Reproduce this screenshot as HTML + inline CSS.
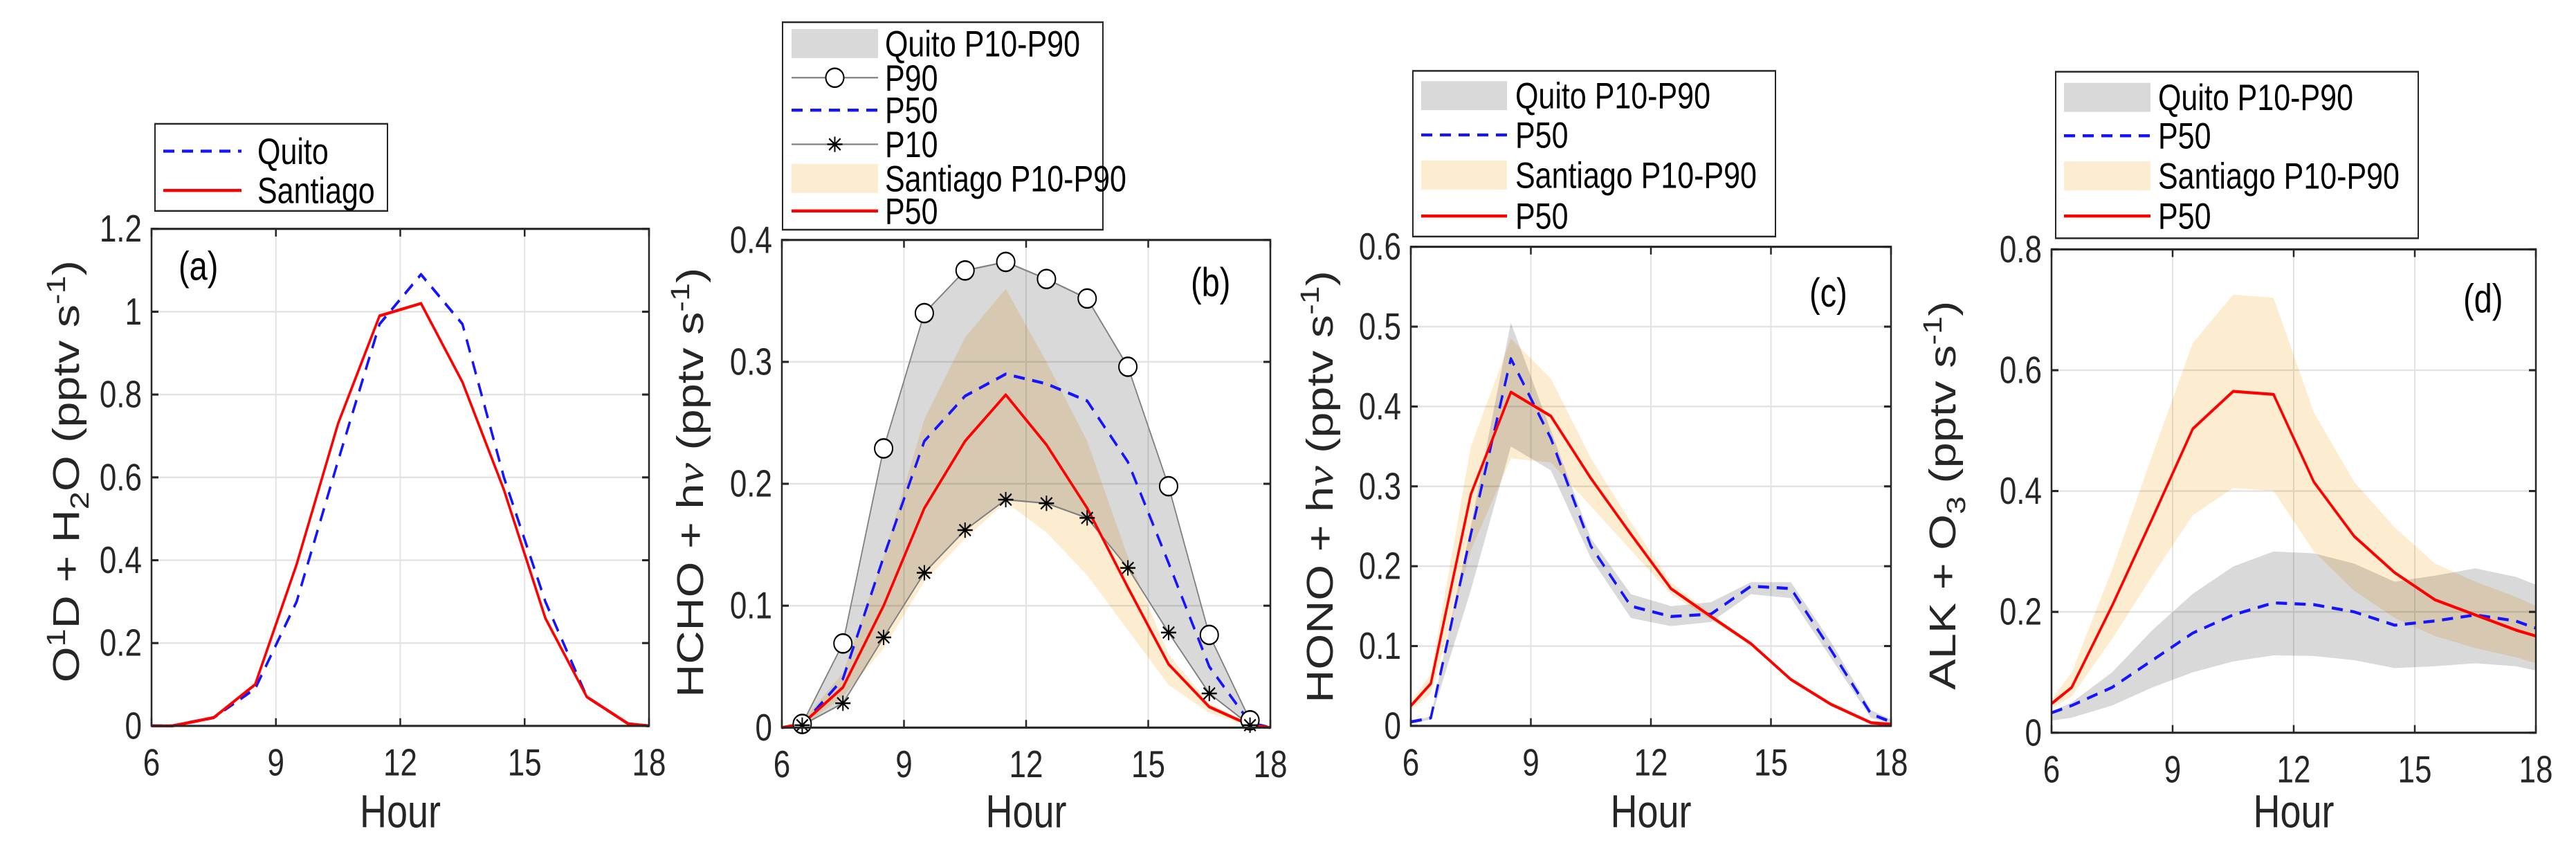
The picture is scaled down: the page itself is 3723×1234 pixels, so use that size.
<!DOCTYPE html>
<html><head><meta charset="utf-8"><style>
html,body{margin:0;padding:0;background:#fff;}
svg{display:block;font-family:"Liberation Sans",sans-serif;}
.band{mix-blend-mode:multiply;}
</style></head><body>
<svg id="fig" width="3723" height="1234" viewBox="0 0 3723 1000" preserveAspectRatio="none" xmlns="http://www.w3.org/2000/svg"></svg>
<script>
const hours = [6,6.5,7.5,8.5,9.5,10.5,11.5,12.5,13.5,14.5,15.5,16.5,17.5,18];
const xTicks = [6,9,12,15,18];
// panel a
const aQuito = [0,0,0.02,0.09,0.3,0.64,0.97,1.09,0.97,0.6,0.3,0.07,0.005,0];
const aSantiago = [0,0,0.02,0.1,0.39,0.73,0.99,1.02,0.83,0.57,0.26,0.07,0.005,0];
const aYTicks = [0,0.2,0.4,0.6,0.8,1,1.2];
// panel b
const bHours = [6.5,7.5,8.5,9.5,10.5,11.5,12.5,13.5,14.5,15.5,16.5,17.5];
const bQuitoP90 = [0.003,0.069,0.229,0.34,0.375,0.382,0.368,0.352,0.296,0.198,0.076,0.006];
const bQuitoP10 = [0.002,0.02,0.074,0.127,0.162,0.187,0.184,0.172,0.131,0.078,0.028,0.002];
const bQuitoP50 = [0,0.002,0.04,0.14,0.235,0.272,0.29,0.282,0.268,0.218,0.135,0.05,0.004,0];
const bSantP90 = [0,0.005,0.045,0.14,0.253,0.32,0.36,0.3,0.235,0.14,0.06,0.02,0.003,0];
const bSantP10 = [0,0.001,0.025,0.065,0.12,0.155,0.185,0.16,0.125,0.08,0.035,0.012,0.001,0];
const bSantP50 = [0,0.003,0.033,0.1,0.18,0.235,0.273,0.232,0.18,0.115,0.052,0.017,0.002,0];
const bYTicks = [0,0.1,0.2,0.3,0.4];
// panel c
const cQuitoP50 = [0.005,0.01,0.24,0.46,0.36,0.225,0.15,0.137,0.14,0.175,0.172,0.095,0.015,0.005];
const cQuitoP90 = [0.005,0.012,0.25,0.505,0.37,0.235,0.165,0.15,0.155,0.18,0.18,0.105,0.02,0.008];
const cQuitoP10 = [0.003,0.008,0.17,0.35,0.32,0.21,0.135,0.125,0.13,0.165,0.16,0.085,0.01,0.003];
const cSantP50 = [0.025,0.053,0.29,0.418,0.388,0.31,0.24,0.172,0.137,0.103,0.058,0.027,0.004,0.002];
const cSantP90 = [0.03,0.065,0.35,0.485,0.435,0.335,0.255,0.18,0.14,0.105,0.06,0.03,0.005,0.002];
const cSantP10 = [0.02,0.04,0.22,0.335,0.33,0.275,0.22,0.165,0.133,0.1,0.056,0.025,0.003,0.001];
const cYTicks = [0,0.1,0.2,0.3,0.4,0.5,0.6];
// panel d
const dSantP50 = [0.048,0.075,0.21,0.355,0.503,0.565,0.56,0.415,0.325,0.265,0.22,0.195,0.17,0.16];
const dSantP90 = [0.055,0.1,0.27,0.46,0.645,0.725,0.72,0.53,0.415,0.34,0.28,0.25,0.225,0.21];
const dSantP10 = [0.04,0.06,0.155,0.26,0.36,0.405,0.4,0.3,0.235,0.19,0.16,0.14,0.125,0.115];
const dQuitoP50 = [0.033,0.045,0.075,0.12,0.165,0.195,0.215,0.212,0.2,0.178,0.185,0.195,0.185,0.173];
const dQuitoP90 = [0.035,0.05,0.1,0.17,0.23,0.275,0.3,0.297,0.28,0.25,0.26,0.272,0.258,0.245];
const dQuitoP10 = [0.02,0.025,0.045,0.075,0.1,0.118,0.128,0.127,0.12,0.107,0.11,0.115,0.11,0.103];
const dYTicks = [0,0.2,0.4,0.6,0.8];

const NS = "http://www.w3.org/2000/svg";
const svg = document.getElementById('fig');
function mk(tag, parent, attrs){
  const e = document.createElementNS(NS, tag);
  for (const k in attrs) e.setAttribute(k, attrs[k]);
  parent.appendChild(e); return e;
}
const GREY = "#d9d9d9", ORANGE = "#fdedd0", BLUE = "#1414ff", RED = "#ff0000";
const TICK_FS = 44, LEG_FS = 43, TITLE_FS = 54;

function makePanel(name, L, R, T, B, ymax, yTicks, fmt){
  const g = mk('g', svg, {});
  
  
  const xs = v => L + (v-6)/12*(R-L);
  const ys = v => B - v/ymax*(B-T);
  const gridG = mk('g', g, {});
  
  
  xTicks.forEach(t => { if (t>6 && t<18) mk('line', gridG, {x1:xs(t),x2:xs(t),y1:T,y2:B,stroke:'#e3e3e3','stroke-width':2}); });
  yTicks.forEach(t => { if (t>0 && t<ymax) mk('line', gridG, {x1:L,x2:R,y1:ys(t),y2:ys(t),stroke:'#e3e3e3','stroke-width':2}); });
  return {g, xs, ys, L, R, T, B, yTicks, fmt};
}
function finishPanel(p, name){
  const {g, xs, ys, L, R, T, B} = p;
  const ax = mk('rect', g, {x:L,y:T,width:R-L,height:B-T,fill:'none',stroke:'#262626','stroke-width':2.5});
  
  
  xTicks.forEach(t => {
    mk('line', g, {x1:xs(t),x2:xs(t),y1:B,y2:B-9,stroke:'#262626','stroke-width':2.5});
    mk('line', g, {x1:xs(t),x2:xs(t),y1:T,y2:T+9,stroke:'#262626','stroke-width':2.5});
    const tx = mk('text', g, {x:xs(t),y:B+58,'text-anchor':'middle','font-size':TICK_FS,fill:'#262626'});
    tx.textContent = t;
    
    
  });
  p.yTicks.forEach(t => {
    mk('line', g, {x1:L,x2:L+10,y1:ys(t),y2:ys(t),stroke:'#262626','stroke-width':2.5});
    mk('line', g, {x1:R,x2:R-10,y1:ys(t),y2:ys(t),stroke:'#262626','stroke-width':2.5});
    const ty = mk('text', g, {x:L-14,y:ys(t)+15,'text-anchor':'end','font-size':TICK_FS,fill:'#262626'});
    ty.textContent = p.fmt(t);
    
    
  });
  const xl = mk('text', g, {x:(L+R)/2,y:969,'text-anchor':'middle','font-size':TITLE_FS,fill:'#262626'});
  xl.textContent = 'Hour';
  
  
}
function band(p, xv, up, lo, color, name){
  let d = '';
  xv.forEach((x,i) => d += (i?'L':'M') + p.xs(x) + ',' + p.ys(up[i]));
  for (let i = xv.length-1; i >= 0; i--) d += 'L' + p.xs(xv[i]) + ',' + p.ys(lo[i]);
  const e = mk('path', p.g, {d: d+'Z', fill: color, class:'band'});
  
  
  return e;
}
function line(p, xv, yv, color, dashed, name, w){
  const pts = xv.map((x,i) => p.xs(x) + ',' + p.ys(yv[i])).join(' ');
  const e = mk('polyline', p.g, {points: pts, fill:'none', stroke: color, 'stroke-width': w||3.5, 'stroke-linejoin':'round'});
  if (dashed) e.setAttribute('stroke-dasharray', '16,11');
  
  
  return e;
}
function circleMark(parent, x, y){
  const c = mk('ellipse', parent, {cx:x, cy:y, rx:13, ry:11, fill:'#fff', stroke:'#000', 'stroke-width':2});
  
  
}
function starMark(parent, x, y){
  const s = mk('g', parent, {stroke:'#000','stroke-width':2});
  
  
  const r = 11, ry = 9;
  mk('line', s, {x1:x-r,x2:x+r,y1:y,y2:y});
  mk('line', s, {x1:x,x2:x,y1:y-ry,y2:y+ry});
  mk('line', s, {x1:x-r*0.75,x2:x+r*0.75,y1:y-ry*0.75,y2:y+ry*0.75});
  mk('line', s, {x1:x-r*0.75,x2:x+r*0.75,y1:y+ry*0.75,y2:y-ry*0.75});
}
function panelLabel(p, txt, x, y){
  const t = mk('text', p.g, {x:x, y:y, 'font-size':47, fill:'#000'});
  t.textContent = txt;
  
  
}
function yTitle(cx, cy, html, name){
  const t = mk('text', svg, {x:0, y:0, 'font-size':TITLE_FS, fill:'#262626', 'text-anchor':'middle',
    transform:'translate(' + cx + ',' + cy + ') rotate(-90)'});
  t.innerHTML = html;
  
  
}
function legend(name, x1, y1, x2, y2, rows, sx1, sx2, tx){
  const g = mk('g', svg, {});
  
  
  mk('rect', g, {x:x1,y:y1,width:x2-x1,height:y2-y1,fill:'#fff',stroke:'#262626','stroke-width':2});
  rows.forEach(r => {
    const eg = mk('g', g, {});
    
    
    if (r.type === 'band') mk('rect', eg, {x:sx1,y:r.y-17,width:sx2-sx1,height:34,fill:r.color});
    else {
      const l = mk('line', eg, {x1:sx1,x2:sx2,y1:r.y,y2:r.y,stroke:r.color,'stroke-width':r.w||3.5});
      if (r.dashed) l.setAttribute('stroke-dasharray','16,11');
      if (r.marker === 'o') circleMark(eg, (sx1+sx2)/2, r.y);
      if (r.marker === '*') starMark(eg, (sx1+sx2)/2, r.y);
    }
    const t = mk('text', eg, {x:tx, y:r.y+15, 'font-size':LEG_FS, fill:'#000'});
    t.textContent = r.label;
  });
}
const fmt = v => String(+v.toFixed(2));
const SUP = '<tspan font-size="38" dy="-20">-1</tspan><tspan dy="20">)</tspan>';

// Panel (a)
const pa = makePanel('panel-a', 219, 938, 268, 850, 1.2, aYTicks, fmt);
line(pa, hours, aQuito, BLUE, true, 'line-quito');
line(pa, hours, aSantiago, RED, false, 'line-santiago');
panelLabel(pa, '(a)', 258, 328);
finishPanel(pa, 'panel-a');
yTitle(114, 552, 'O<tspan font-size="38" dy="-20">1</tspan><tspan dy="20">D + H</tspan><tspan font-size="38" dy="14">2</tspan><tspan dy="-14">O (pptv s</tspan>' + SUP, 'y-axis-title-a');
legend('legend-a', 224, 145, 560, 247, [
  {y:177, color:BLUE, dashed:true, label:'Quito'},
  {y:223, color:RED, label:'Santiago'}], 236, 349, 372);

// Panel (b)
const pb = makePanel('panel-b', 1130, 1836, 281, 852, 0.4, bYTicks, fmt);
band(pb, bHours, bQuitoP90, bQuitoP10, GREY, 'quito-band');
band(pb, hours, bSantP90, bSantP10, ORANGE, 'santiago-band');
line(pb, bHours, bQuitoP90, '#808080', false, 'line-quito-p90', 1.8);
line(pb, bHours, bQuitoP10, '#808080', false, 'line-quito-p10', 1.8);
line(pb, hours, bQuitoP50, BLUE, true, 'line-quito-p50');
line(pb, hours, bSantP50, RED, false, 'line-santiago-p50');
bHours.forEach((h,i) => circleMark(pb.g, pb.xs(h), pb.ys(bQuitoP90[i])));
bHours.forEach((h,i) => starMark(pb.g, pb.xs(h), pb.ys(bQuitoP10[i])));
panelLabel(pb, '(b)', 1721, 347);
finishPanel(pb, 'panel-b');
yTitle(1016, 565, 'HCHO + h<tspan font-family="Liberation Serif" font-style="italic">ν</tspan>  (pptv s' + SUP, 'y-axis-title-b');
legend('legend-b', 1131, 26, 1594, 269, [
  {y:51, type:'band', color:GREY, label:'Quito P10-P90'},
  {y:91, color:'#808080', w:1.8, marker:'o', label:'P90'},
  {y:129, color:BLUE, dashed:true, label:'P50'},
  {y:169, color:'#808080', w:1.8, marker:'*', label:'P10'},
  {y:209, type:'band', color:ORANGE, label:'Santiago P10-P90'},
  {y:247, color:RED, label:'P50'}], 1144, 1269, 1279);

// Panel (c)
const pc = makePanel('panel-c', 2039, 2733, 289, 850, 0.6, cYTicks, fmt);
band(pc, hours, cQuitoP90, cQuitoP10, GREY, 'quito-band');
band(pc, hours, cSantP90, cSantP10, ORANGE, 'santiago-band');
line(pc, hours, cQuitoP50, BLUE, true, 'line-quito-p50');
line(pc, hours, cSantP50, RED, false, 'line-santiago-p50');
panelLabel(pc, '(c)', 2615, 359);
finishPanel(pc, 'panel-c');
yTitle(1926, 570, 'HONO + h<tspan font-family="Liberation Serif" font-style="italic">ν</tspan>  (pptv s' + SUP, 'y-axis-title-c');
legend('legend-c', 2042, 83, 2566, 277, [
  {y:112, type:'band', color:GREY, label:'Quito P10-P90'},
  {y:158, color:BLUE, dashed:true, label:'P50'},
  {y:205, type:'band', color:ORANGE, label:'Santiago P10-P90'},
  {y:253, color:RED, label:'P50'}], 2054, 2178, 2190);

// Panel (d)
const pd = makePanel('panel-d', 2965, 3665, 292, 858, 0.8, dYTicks, fmt);
band(pd, hours, dQuitoP90, dQuitoP10, GREY, 'quito-band');
band(pd, hours, dSantP90, dSantP10, ORANGE, 'santiago-band');
line(pd, hours, dQuitoP50, BLUE, true, 'line-quito-p50');
line(pd, hours, dSantP50, RED, false, 'line-santiago-p50');
panelLabel(pd, '(d)', 3560, 366);
finishPanel(pd, 'panel-d');
yTitle(2826, 580, 'ALK + O<tspan font-size="38" dy="14">3</tspan><tspan dy="-14">  (pptv s</tspan>' + SUP, 'y-axis-title-d');
legend('legend-d', 2971, 84, 3495, 279, [
  {y:114, type:'band', color:GREY, label:'Quito P10-P90'},
  {y:159, color:BLUE, dashed:true, label:'P50'},
  {y:206, type:'band', color:ORANGE, label:'Santiago P10-P90'},
  {y:253, color:RED, label:'P50'}], 2983, 3108, 3119);
</script>
</body></html>
